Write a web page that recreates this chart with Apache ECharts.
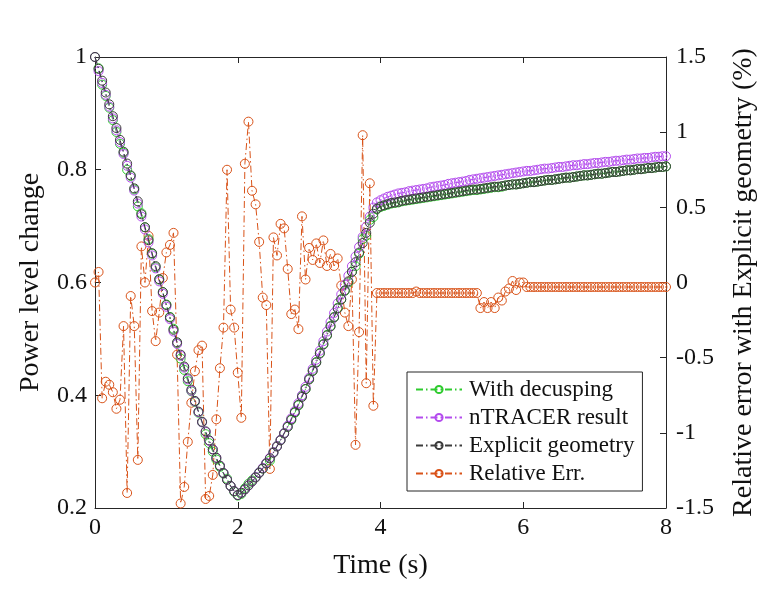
<!DOCTYPE html>
<html>
<head>
<meta charset="utf-8">
<script src="https://cdn.jsdelivr.net/npm/echarts@6/dist/echarts.min.js"></script>
<style>
  html, body { margin: 0; padding: 0; background: #fff; }
  #chart { width: 766px; height: 589px; }
</style>
</head>
<body>
<div id="chart"></div>
<script>
// Sampling instants (s)
const time = [
  0.00,0.05,0.10,0.15,0.20,0.25,0.30,0.35,0.40,0.45,0.50,0.55,0.60,0.65,0.70,0.75,0.80,0.85,0.90,0.95,
  1.00,1.05,1.10,1.15,1.20,1.25,1.30,1.35,1.40,1.45,1.50,1.55,1.60,1.65,1.70,1.75,1.80,1.85,1.90,1.95,
  2.00,2.05,2.10,2.15,2.20,2.25,2.30,2.35,2.40,2.45,2.50,2.55,2.60,2.65,2.70,2.75,2.80,2.85,2.90,2.95,
  3.00,3.05,3.10,3.15,3.20,3.25,3.30,3.35,3.40,3.45,3.50,3.55,3.60,3.65,3.70,3.75,3.80,3.85,3.90,3.95,
  4.00,4.05,4.10,4.15,4.20,4.25,4.30,4.35,4.40,4.45,4.50,4.55,4.60,4.65,4.70,4.75,4.80,4.85,4.90,4.95,
  5.00,5.05,5.10,5.15,5.20,5.25,5.30,5.35,5.40,5.45,5.50,5.55,5.60,5.65,5.70,5.75,5.80,5.85,5.90,5.95,
  6.00,6.05,6.10,6.15,6.20,6.25,6.30,6.35,6.40,6.45,6.50,6.55,6.60,6.65,6.70,6.75,6.80,6.85,6.90,6.95,
  7.00,7.05,7.10,7.15,7.20,7.25,7.30,7.35,7.40,7.45,7.50,7.55,7.60,7.65,7.70,7.75,7.80,7.85,7.90,7.95,
  8.00
];

// Normalised power, explicit geometry reference
const explicitGeometry = [
  1.000,0.979,0.958,0.937,0.916,0.895,0.874,0.853,0.832,0.811,0.790,0.767,0.744,0.721,0.698,0.675,0.652,0.629,0.606,0.583,
  0.560,0.538,0.516,0.494,0.472,0.451,0.430,0.410,0.390,0.371,0.353,0.336,0.320,0.304,0.289,0.275,0.262,0.250,0.239,0.230,
  0.223,0.227,0.233,0.240,0.247,0.254,0.262,0.270,0.279,0.288,0.298,0.309,0.320,0.332,0.344,0.357,0.370,0.383,0.397,0.411,
  0.428,0.443,0.458,0.474,0.490,0.506,0.522,0.538,0.554,0.570,0.586,0.602,0.619,0.636,0.653,0.670,0.688,0.706,0.722,0.731,
  0.735,0.737,0.739,0.741,0.742,0.743,0.745,0.746,0.747,0.748,0.749,0.750,0.751,0.752,0.753,0.754,0.755,0.756,0.757,0.758,
  0.759,0.760,0.761,0.762,0.763,0.764,0.765,0.765,0.766,0.767,0.768,0.769,0.770,0.770,0.771,0.772,0.773,0.774,0.774,0.775,
  0.776,0.777,0.778,0.778,0.779,0.780,0.781,0.782,0.782,0.783,0.784,0.785,0.786,0.786,0.787,0.788,0.789,0.790,0.790,0.791,
  0.792,0.793,0.793,0.794,0.795,0.796,0.796,0.797,0.798,0.799,0.799,0.800,0.801,0.801,0.802,0.803,0.803,0.804,0.805,0.805,
  0.806
];

// Normalised power, nTRACER
const ntracerResult = [
  1.000,0.975,0.954,0.933,0.912,0.891,0.870,0.849,0.828,0.807,0.786,0.763,0.740,0.717,0.694,0.671,0.648,0.625,0.602,0.580,
  0.557,0.535,0.513,0.491,0.470,0.449,0.428,0.408,0.389,0.370,0.352,0.335,0.319,0.304,0.289,0.275,0.262,0.250,0.239,0.230,
  0.223,0.227,0.233,0.240,0.247,0.255,0.263,0.271,0.280,0.289,0.299,0.310,0.321,0.333,0.346,0.359,0.372,0.386,0.400,0.415,
  0.431,0.447,0.463,0.479,0.496,0.513,0.530,0.546,0.563,0.579,0.596,0.612,0.629,0.646,0.663,0.681,0.699,0.717,0.733,0.742,
  0.746,0.749,0.752,0.754,0.756,0.758,0.759,0.760,0.762,0.763,0.764,0.765,0.766,0.767,0.769,0.770,0.771,0.772,0.773,0.775,
  0.776,0.777,0.778,0.779,0.780,0.782,0.783,0.784,0.785,0.786,0.787,0.788,0.789,0.790,0.791,0.792,0.793,0.794,0.795,0.796,
  0.797,0.798,0.798,0.799,0.800,0.801,0.802,0.802,0.803,0.804,0.805,0.805,0.806,0.807,0.808,0.808,0.809,0.810,0.810,0.811,
  0.812,0.812,0.813,0.814,0.814,0.815,0.816,0.816,0.817,0.818,0.818,0.819,0.820,0.820,0.821,0.821,0.822,0.823,0.823,0.824,
  0.824
];

// Normalised power, with decusping
const withDecusping = [
  1.000,0.980,0.951,0.931,0.910,0.888,0.867,0.846,0.830,0.800,0.789,0.765,0.735,0.723,0.698,0.677,0.651,0.627,0.605,0.583,
  0.561,0.539,0.518,0.492,0.465,0.445,0.425,0.407,0.388,0.369,0.352,0.331,0.315,0.300,0.286,0.273,0.261,0.252,0.239,0.229,
  0.222,0.225,0.235,0.243,0.249,0.255,0.263,0.270,0.279,0.284,0.299,0.310,0.321,0.333,0.344,0.356,0.369,0.382,0.399,0.411,
  0.429,0.444,0.459,0.475,0.491,0.507,0.523,0.539,0.555,0.570,0.585,0.600,0.619,0.629,0.651,0.677,0.683,0.711,0.716,0.730,
  0.734,0.736,0.738,0.740,0.741,0.742,0.744,0.745,0.746,0.747,0.748,0.749,0.750,0.751,0.752,0.753,0.754,0.755,0.756,0.757,
  0.758,0.759,0.760,0.761,0.762,0.763,0.764,0.764,0.765,0.766,0.767,0.768,0.769,0.769,0.770,0.772,0.773,0.774,0.774,0.775,
  0.776,0.777,0.778,0.778,0.779,0.780,0.781,0.782,0.782,0.783,0.784,0.785,0.786,0.786,0.787,0.788,0.789,0.790,0.790,0.791,
  0.792,0.793,0.793,0.794,0.795,0.796,0.796,0.797,0.798,0.799,0.799,0.800,0.801,0.801,0.802,0.803,0.803,0.804,0.805,0.805,
  0.806
];

// Relative error against explicit geometry (%)
const relativeErr = [
  0.00,0.07,-0.77,-0.66,-0.68,-0.73,-0.84,-0.78,-0.29,-1.40,-0.09,-0.29,-1.18,0.24,0.00,0.31,-0.19,-0.39,-0.20,0.03,
  0.20,0.25,0.33,-0.48,-1.47,-1.36,-1.06,-0.80,-0.59,-0.45,-0.42,-1.44,-1.42,-1.28,-0.91,-0.57,-0.30,0.75,-0.18,-0.30,
  -0.60,-0.90,0.79,1.07,0.61,0.52,0.27,-0.10,-0.15,-1.24,0.30,0.18,0.39,0.36,0.09,-0.21,-0.18,-0.31,0.44,0.02,
  0.23,0.15,0.26,0.13,0.28,0.11,0.19,0.11,0.16,-0.02,-0.20,-0.29,0.02,-1.08,-0.33,0.98,-0.67,0.66,-0.82,-0.07,
  -0.07,-0.07,-0.07,-0.07,-0.07,-0.07,-0.07,-0.07,-0.07,-0.07,-0.06,-0.07,-0.07,-0.07,-0.07,-0.07,-0.07,-0.07,-0.07,-0.07,
  -0.07,-0.07,-0.07,-0.07,-0.07,-0.07,-0.07,-0.07,-0.17,-0.13,-0.17,-0.13,-0.17,-0.10,-0.12,-0.06,-0.04,0.01,-0.05,0.00,
  0.00,-0.03,-0.03,-0.03,-0.03,-0.03,-0.03,-0.03,-0.03,-0.03,-0.03,-0.03,-0.03,-0.03,-0.03,-0.03,-0.03,-0.03,-0.03,-0.03,
  -0.03,-0.03,-0.03,-0.03,-0.03,-0.03,-0.03,-0.03,-0.03,-0.03,-0.03,-0.03,-0.03,-0.03,-0.03,-0.03,-0.03,-0.03,-0.03,-0.03,
  -0.03
];

const xTicks = [0, 2, 4, 6, 8];
const leftTicks = [0.2, 0.4, 0.6, 0.8, 1];
const rightTicks = [-1.5, -1, -0.5, 0, 0.5, 1, 1.5];

const FONT = 'Liberation Serif, Times New Roman, serif';
const INK = '#262626';
const DASHDOT = [7, 3, 1.5, 3];

function pairs(values) {
  return time.map((t, i) => [t, values[i]]);
}

function lineSeries(name, values, color, yIndex, z) {
  return {
    name: name,
    type: 'line',
    yAxisIndex: yIndex,
    data: pairs(values),
    symbol: 'circle',
    symbolSize: 9,
    showSymbol: true,
    z: z,
    itemStyle: { color: 'rgba(255,255,255,0)', borderColor: color, borderWidth: 1 },
    lineStyle: { color: color, width: 1, type: DASHDOT },
    emphasis: { disabled: true }
  };
}

const tickStyle = { show: true, inside: true, length: 6, lineStyle: { color: INK } };
const labelStyle = { fontFamily: FONT, fontSize: 24, color: '#111' };
const nameStyle = { fontFamily: FONT, fontSize: 28, color: '#111' };

const chart = echarts.init(document.getElementById('chart'), null, { renderer: 'canvas' });

chart.setOption({
  animation: false,
  backgroundColor: '#ffffff',
  grid: { left: 95, right: 100, top: 57, bottom: 81, containLabel: false },
  legend: {
    data: ['With decusping', 'nTRACER result', 'Explicit geometry', 'Relative Err.'],
    orient: 'vertical',
    left: 407,
    top: 372,
    itemWidth: 46,
    itemHeight: 9,
    itemGap: 5,
    padding: [6, 8, 6, 8],
    backgroundColor: '#ffffff',
    borderColor: INK,
    borderWidth: 1,
    borderRadius: 0,
    textStyle: { fontFamily: FONT, fontSize: 23, color: '#111', padding: [0, 0, 0, 2] }
  },
  xAxis: [
    {
      type: 'value', min: 0, max: 8, interval: 2, position: 'bottom',
      name: 'Time (s)', nameLocation: 'middle', nameGap: 44, nameTextStyle: nameStyle,
      axisLine: { show: true, onZero: false, lineStyle: { color: INK, width: 1 } },
      axisTick: Object.assign({ customValues: xTicks }, tickStyle),
      axisLabel: Object.assign({ margin: 8, customValues: xTicks, formatter: v => String(v) }, labelStyle),
      splitLine: { show: false }
    },
    {
      type: 'value', min: 0, max: 8, interval: 2, position: 'top',
      axisLine: { show: true, onZero: false, lineStyle: { color: INK, width: 1 } },
      axisTick: Object.assign({ customValues: xTicks }, tickStyle),
      axisLabel: { show: false },
      splitLine: { show: false }
    }
  ],
  yAxis: [
    {
      type: 'value', min: 0.2, max: 1, interval: 0.2, position: 'left', alignTicks: false,
      name: 'Power level change', nameLocation: 'middle', nameGap: 50, nameTextStyle: nameStyle,
      axisLine: { show: true, onZero: false, lineStyle: { color: INK, width: 1 } },
      axisTick: Object.assign({ customValues: leftTicks }, tickStyle),
      axisLabel: Object.assign({ margin: 8, customValues: leftTicks, formatter: v => String(+v.toFixed(1)) }, labelStyle),
      splitLine: { show: false }
    },
    {
      type: 'value', min: -1.5, max: 1.5, interval: 0.5, position: 'right', alignTicks: false,
      name: 'Relative error with Explicit geometry (%)', nameLocation: 'middle', nameGap: 64,
      nameRotate: 90, nameTextStyle: nameStyle,
      axisLine: { show: true, onZero: false, lineStyle: { color: INK, width: 1 } },
      axisTick: Object.assign({ customValues: rightTicks }, tickStyle),
      axisLabel: Object.assign({ margin: 10, customValues: rightTicks, formatter: v => String(+v.toFixed(1)) }, labelStyle),
      splitLine: { show: false }
    }
  ],
  series: [
    lineSeries('Relative Err.', relativeErr, '#D95319', 1, 2),
    lineSeries('With decusping', withDecusping, '#2FCB2F', 0, 3),
    lineSeries('nTRACER result', ntracerResult, '#B44CEE', 0, 4),
    lineSeries('Explicit geometry', explicitGeometry, '#3C3C3C', 0, 5)
  ]
});
</script>
</body>
</html>
